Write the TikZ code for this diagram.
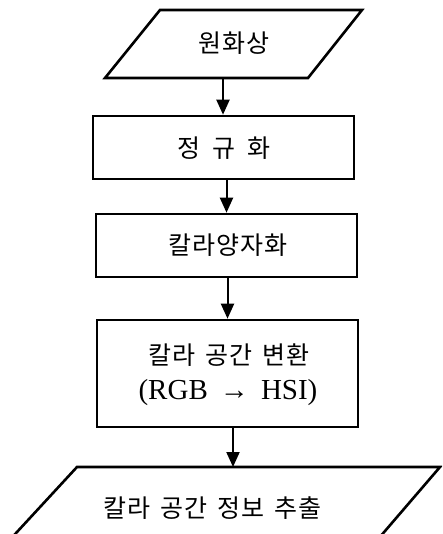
\documentclass[tikz,border=0pt]{standalone}
\usepackage{fontspec}
\setmainfont{Liberation Serif}
\newfontfamily\kr[LetterSpace=4]{Noto Sans CJK KR}
\newcommand\wgap{\hspace{10pt}}
\usetikzlibrary{arrows.meta}
\begin{document}
\begin{tikzpicture}[x=1pt,y=-1pt,
  stepbox/.style={draw=black,line width=2.6pt,rectangle,inner sep=0pt,minimum width=261pt},
  outline/.style={draw=black,line width=2.6pt,line join=miter},
  lbl/.style={font=\kr\fontsize{25pt}{30pt}\selectfont,inner sep=0pt},
  latin/.style={font=\fontsize{29pt}{34pt}\selectfont,inner sep=0pt},
  arr/.style={line width=2pt,-{Triangle[length=15pt,width=13pt]},shorten >=0pt}]
\useasboundingbox (0,0) rectangle (442,534);
\clip (0,0) rectangle (442,534);
% top parallelogram
\draw[outline] (105,78) -- (160,10) -- (362,10) -- (308,78) -- cycle;
\node[lbl] (t1) at (234,43) {원화상};
\coordinate (p1s) at (223,78);
% boxes
\node[stepbox,minimum height=63pt] (b2) at (223.5,147.5) {};
\node[lbl] (t2) at (224,148) {정\hspace{12pt}규\hspace{12pt}화};
\node[stepbox,minimum height=63pt] (b3) at (226.5,245.5) {};
\node[lbl] (t3) at (228,245) {칼라양자화};
\node[stepbox,minimum height=107pt] (b4) at (227.5,373.5) {};
\node[lbl] (t4a) at (229,355) {칼라\wgap 공간\wgap 변환};
\node[latin] (t4b) at (228,393) {(RGB \,→\, HSI)};
% bottom parallelogram
\coordinate (p2n) at (233,467);
\draw[outline] (77,467) -- (440,467) -- (373,545) -- (5,545) -- cycle;
\node[lbl] (t5) at (212,508) {칼라\wgap 공간\wgap 정보\wgap 추출};
% arrows
\draw[arr] (p1s) -- (p1s |- b2.north);
\draw[arr] (b3.north |- b2.south) -- (b3.north);
\draw[arr] (b4.north |- b3.south) -- (b4.north);
\draw[arr] (p2n |- b4.south) -- (p2n);
\end{tikzpicture}
\end{document}
